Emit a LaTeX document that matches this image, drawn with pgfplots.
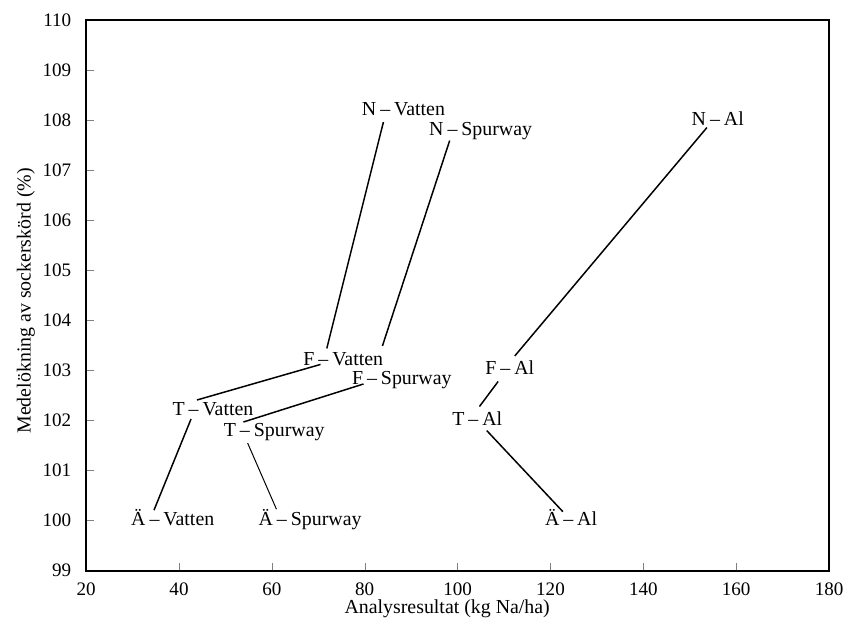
\documentclass[border=0pt]{standalone}
\usepackage{fontspec}
\setmainfont{Liberation Serif}
\usepackage{pgfplots}
\pgfplotsset{compat=1.18}
\newcommand{\st}{\hspace{0.2em}\textendash\hspace{0.2em}}
\begin{document}
\begin{tikzpicture}
  \begin{axis}[
      name=ax,
      scale only axis,
      width=373.9pt, height=277.25pt,
      xmin=20, xmax=180, ymin=99, ymax=110,
      xtick={20,40,...,180}, ytick={99,100,...,110},
      xtick pos=bottom, ytick pos=left,
      tick align=inside,
      major tick length=4pt,
      axis line style={line width=1pt},
      /pgf/number format/assume math mode=true,
      tick label style={font=\fontsize{9.6}{11}\selectfont},
      xticklabel style={yshift=-2.5pt},
      yticklabel style={xshift=-4pt},
      label style={font=\fontsize{10.4}{12}\selectfont},
      xlabel={Analysresultat (kg Na/ha)},
      ylabel={Medelökning av sockerskörd (\%)},
      every axis x label/.style={at={(axis description cs:0.486,0)}, anchor=center, yshift=-19.25pt},
      every axis y label/.style={at={(axis description cs:-0.0812,0.49)}, anchor=center, rotate=90},
      unbounded coords=jump,
      clip=false,
    ]
    % Vatten
    \addplot[black, line width=0.75pt] coordinates {
      (34.61,100.21) (42.59,102.03) (nan,nan)
      (43.87,102.41) (70.48,103.12) (nan,nan)
      (71.83,103.44) (84.02,107.96)
    };
    % Spurway
    \addplot[black, line width=0.5pt] coordinates {
      (60.98,100.23) (54.78,101.55)
    };
    \addplot[black, line width=0.75pt] coordinates {
      (53.86,101.97) (79.74,102.73) (nan,nan)
      (83.81,103.49) (98.29,107.59)
    };
    % Al
    \addplot[black, line width=0.75pt] coordinates {
      (122.67,100.18) (106.27,101.80) (nan,nan)
      (104.71,102.28) (108.73,102.78) (nan,nan)
      (112.32,103.29) (153.69,107.85)
    };
    \begin{scope}[every node/.style={anchor=base west, inner sep=0pt, font=\fontsize{10}{12}\selectfont}]
      \node at (axis cs:79.32,108.085) {N\st Vatten};
      \node at (axis cs:93.80,107.686) {N\st Spurway};
      \node at (axis cs:150.33,107.90) {N\st Al};
      \node at (axis cs:66.70,103.10) {F\st Vatten};
      \node at (axis cs:77.18,102.71) {F\st Spurway};
      \node at (axis cs:105.90,102.92) {F\st Al};
      \node at (axis cs:38.52,102.10) {T\st Vatten};
      \node at (axis cs:49.58,101.69) {T\st Spurway};
      \node at (axis cs:98.78,101.91) {T\st Al};
      \node at (axis cs:29.63,99.90) {Ä\st Vatten};
      \node at (axis cs:57.07,99.90) {Ä\st Spurway};
      \node at (axis cs:118.74,99.91) {Ä\st Al};
    \end{scope}
  \end{axis}
  \path ([shift={(-43.35pt,-26.25pt)}]ax.south west) rectangle ([shift={(7.75pt,10pt)}]ax.north east);
\end{tikzpicture}
\end{document}
